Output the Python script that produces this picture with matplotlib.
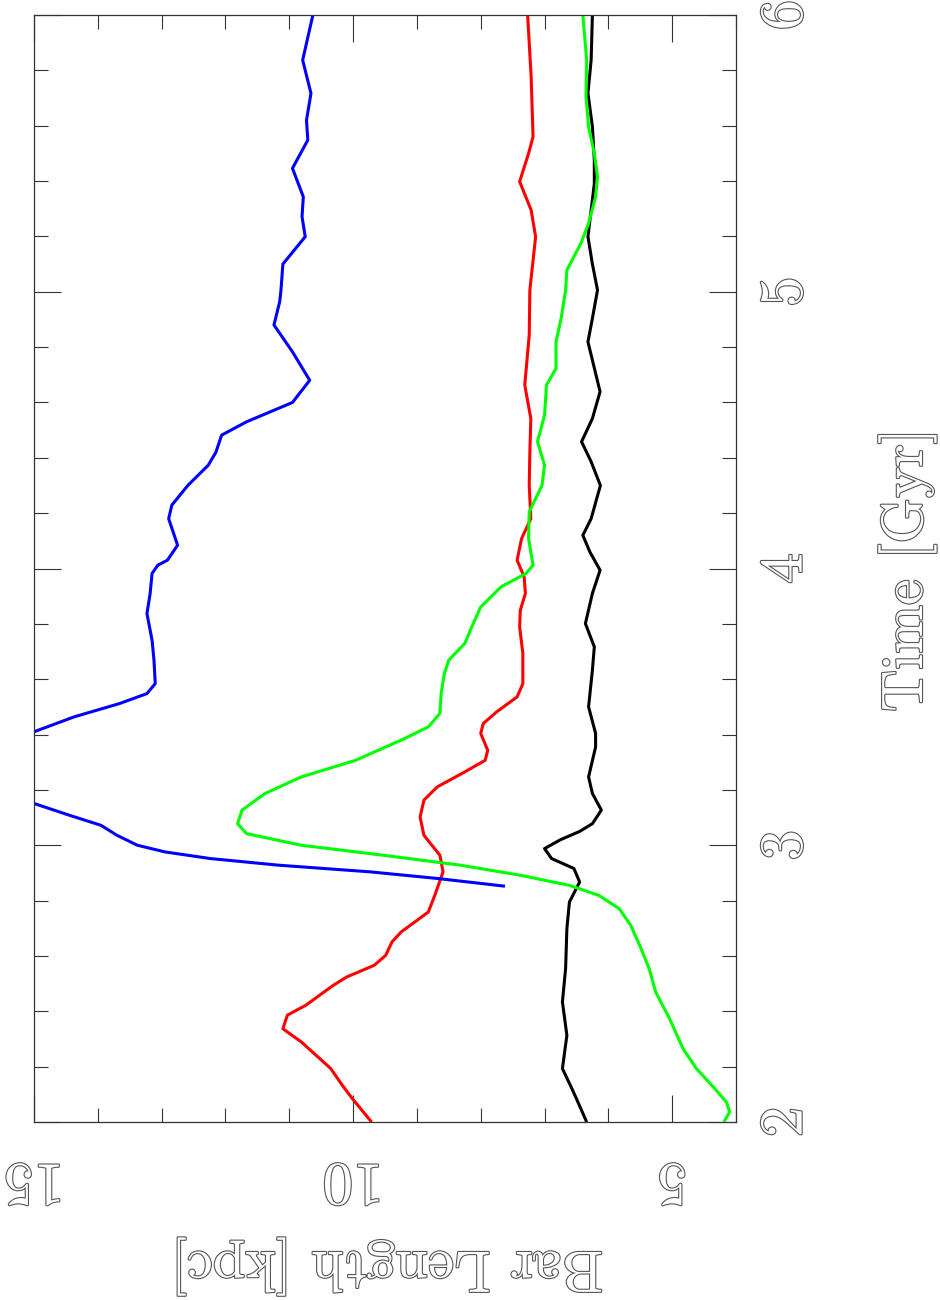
import matplotlib
matplotlib.use('Agg')
import matplotlib.pyplot as plt
import matplotlib.patheffects as pe
from matplotlib.ticker import MultipleLocator

black_t = [2.0, 2.084, 2.12, 2.193, 2.313, 2.434, 2.554, 2.699, 2.795, 2.867, 2.916,
           2.952, 2.988, 3.02, 3.05, 3.078, 3.127, 3.187, 3.247, 3.355, 3.404, 3.5,
           3.633, 3.717, 3.801, 3.91, 3.994, 4.06, 4.12, 4.18, 4.30, 4.386, 4.458,
           4.542, 4.639, 4.819, 4.904, 5.006, 5.10, 5.199, 5.295, 5.39, 5.476, 5.596,
           5.717, 5.837, 6.0]
black_L = [6.34, 6.50, 6.57, 6.72, 6.65, 6.72, 6.67, 6.65, 6.61, 6.45, 6.54,
           6.89, 7.0, 6.75, 6.45, 6.25, 6.11, 6.25, 6.31, 6.20, 6.20, 6.31,
           6.25, 6.22, 6.36, 6.25, 6.13, 6.29, 6.40, 6.27, 6.125, 6.27, 6.42,
           6.25, 6.13, 6.32, 6.25, 6.17, 6.25, 6.32, 6.27, 6.22, 6.22, 6.25,
           6.32, 6.27, 6.25]

red_t = [2.0, 2.084, 2.133, 2.193, 2.289, 2.337, 2.386, 2.422, 2.494, 2.524, 2.566,
         2.602, 2.651, 2.687, 2.735, 2.759, 2.819, 2.904, 2.964, 3.036, 3.102, 3.163,
         3.211, 3.265, 3.307, 3.343, 3.404, 3.44, 3.482, 3.536, 3.584, 3.693, 3.789,
         3.849, 3.91, 3.97, 4.03, 4.108, 4.18, 4.30, 4.42, 4.542, 4.663, 4.843,
         5.006, 5.199, 5.295, 5.398, 5.5, 5.56, 5.777, 6.0]
red_L = [9.71, 10.01, 10.17, 10.35, 10.81, 11.10, 11.03, 10.74, 10.31, 10.10, 9.67,
         9.49, 9.39, 9.245, 8.96, 8.82, 8.72, 8.59, 8.64, 8.89, 8.95, 8.89,
         8.68, 8.25, 7.93, 7.89, 8.0, 7.96, 7.75, 7.43, 7.34, 7.34, 7.39,
         7.38, 7.30, 7.32, 7.43, 7.36, 7.215, 7.24, 7.23, 7.215, 7.31, 7.24,
         7.23, 7.14, 7.21, 7.39, 7.25, 7.18, 7.21, 7.265]

green_t = [2.0, 2.036, 2.072, 2.12, 2.193, 2.265, 2.373, 2.47, 2.554, 2.639, 2.711,
           2.771, 2.819, 2.855, 2.892, 2.928, 2.964, 3.0, 3.042, 3.078, 3.127, 3.187,
           3.247, 3.307, 3.38, 3.428, 3.476, 3.549, 3.62, 3.669, 3.729, 3.789, 3.861,
           3.934, 3.982, 4.012, 4.108, 4.205, 4.30, 4.373, 4.458, 4.554, 4.663, 4.723,
           4.819, 4.904, 5.006, 5.078, 5.175, 5.247, 5.343, 5.416, 5.5, 5.596, 5.705,
           5.837, 6.0]
green_L = [4.19, 4.10, 4.15, 4.33, 4.62, 4.83, 5.04, 5.26, 5.36, 5.51, 5.65,
           5.83, 6.15, 6.61, 7.39, 8.32, 9.53, 10.81, 11.67, 11.81, 11.74, 11.38,
           10.81, 9.96, 9.245, 8.82, 8.64, 8.62, 8.57, 8.50, 8.25, 8.14, 8.0,
           7.68, 7.29, 7.18, 7.25, 7.24, 7.04, 7.0, 7.11, 7.0, 6.97, 6.82,
           6.82, 6.74, 6.67, 6.65, 6.43, 6.31, 6.20, 6.17, 6.22, 6.31, 6.35,
           6.34, 6.40]

blue_t = [2.852, 2.88, 2.904, 2.928, 2.952, 2.976, 3.0, 3.036, 3.072, 3.108, 3.151,
          3.22, 3.28, 3.35, 3.41, 3.464, 3.512, 3.548, 3.584, 3.669, 3.741, 3.837,
          3.91, 3.982, 4.012, 4.03, 4.084, 4.18, 4.229, 4.30, 4.373, 4.42, 4.482,
          4.53, 4.60, 4.68, 4.783, 4.88, 4.964, 5.006, 5.10, 5.199, 5.271, 5.343,
          5.446, 5.548, 5.62, 5.717, 5.837, 6.0]
blue_L = [7.62, 8.68, 9.74, 11.17, 12.24, 12.95, 13.38, 13.70, 13.95, 14.44, 15.0,
          15.7, 15.9, 15.6, 15.0, 14.37, 13.66, 13.23, 13.10, 13.12, 13.15, 13.23,
          13.18, 13.15, 13.06, 12.91, 12.75, 12.89, 12.84, 12.59, 12.27, 12.15, 12.06,
          11.67, 10.95, 10.68, 10.95, 11.24, 11.15, 11.13, 11.10, 10.75, 10.80, 10.78,
          10.95, 10.71, 10.73, 10.66, 10.79, 10.63]

len_ticks = [5, 10, 15]
len_labels = ['5', '10', '15']
time_ticks = [2, 3, 4, 5, 6]
time_labels = ['2', '3', '4', '5', '6']

# hollow grey lettering like the original
txt = dict(family='cmr10', color='white',
           path_effects=[pe.withStroke(linewidth=1.6, foreground='#555555')])

fig = plt.figure(figsize=(9.4, 13), dpi=100)
ax = fig.add_axes([34/940, 178/1300, 702/940, 1107/1300])

line_kw = dict(lw=2.2, solid_joinstyle='round', solid_capstyle='butt')
ax.plot(black_L, black_t, color='black', **line_kw)
ax.plot(red_L, red_t, color='#ff0000', **line_kw)
ax.plot(green_L, green_t, color='#00ff00', **line_kw)
ax.plot(blue_L, blue_t, color='#0000ff', **line_kw)

ax.set_xlim(15, 4)
ax.set_ylim(2, 6)

ax.set_xticks(len_ticks)
ax.set_xticklabels(len_labels, fontsize=44, **txt)
ax.set_yticks(time_ticks)
ax.set_yticklabels(time_labels, fontsize=44, va='center', **txt)
ax.xaxis.set_minor_locator(MultipleLocator(1))
ax.yaxis.set_minor_locator(MultipleLocator(0.2))

ax.tick_params(which='both', direction='in', top=True, bottom=True, left=True, right=True,
               labelleft=False, labelright=True, color='#333333', width=0.8)
ax.tick_params(which='major', length=19.5)
ax.tick_params(which='minor', length=10)
ax.tick_params(axis='x', labelrotation=180, pad=22)
ax.tick_params(axis='y', labelrotation=90, pad=16)

for s in ax.spines.values():
    s.set_color('#333333')
    s.set_linewidth(0.9)

for lab in ax.get_yticklabels():
    lab.set_va('center')

fig.text(387/940, 1 - 1267/1300, 'Bar Length [kpc]', rotation=180,
         ha='center', va='center', fontsize=42, **txt)
fig.text(907/940, 1 - 570/1300, 'Time [Gyr]', rotation=90,
         ha='center', va='center', fontsize=42, **txt)

fig.savefig('out.png', dpi=100)
